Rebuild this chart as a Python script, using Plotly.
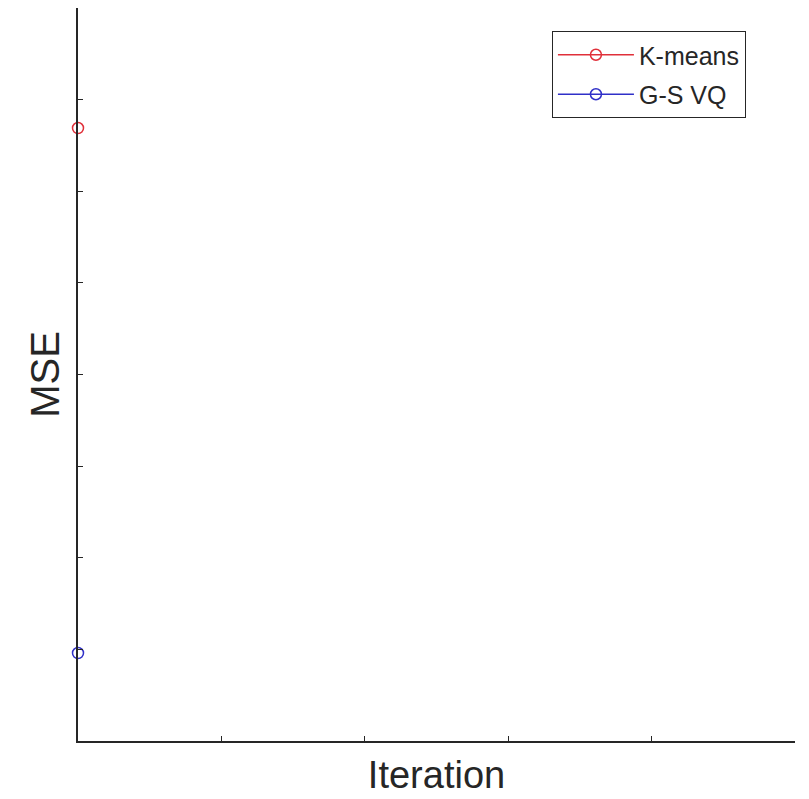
import plotly.graph_objects as go

series_names = ["K-means", "G-S VQ"]
iterations = [[0], [0]]
mse_values = [[6.69], [0.96]]
colors = ["#e0303a", "#3030c8"]

x_range = [0, 5]
y_range = [0, 8]
x_ticks = [0, 1, 2, 3, 4, 5]
y_ticks = [0, 1, 2, 3, 4, 5, 6, 7, 8]

fig = go.Figure()
for i, (name, xs, ys, c) in enumerate(zip(series_names, iterations, mse_values, colors)):
    fig.add_trace(go.Scatter(
        x=xs, y=ys, name=name, mode="lines+markers", legendgroup=f"g{i}",
        line=dict(color=c, width=1.5),
        marker=dict(symbol="circle-open", size=11, color=c, line=dict(width=1.5, color=c)),
        cliponaxis=False,
    ))

axis_common = dict(
    showgrid=False, zeroline=False, showline=True, linecolor="#262626", linewidth=1.5,
    ticklen=5, tickcolor="#262626", tickwidth=1, showticklabels=False,
    mirror=False, ticks="inside",
)
fig.update_xaxes(range=x_range, tickvals=x_ticks, **axis_common,
                 title=dict(text="Iteration", font=dict(size=38, color="#262626"), standoff=20))
fig.update_yaxes(range=y_range, tickvals=y_ticks, **axis_common,
                 title=dict(text="MSE", font=dict(size=40, color="#262626"), standoff=4))

fig.update_layout(
    width=809, height=799,
    margin=dict(l=78, r=14, t=8, b=58, autoexpand=False),
    paper_bgcolor="white", plot_bgcolor="white",
    font=dict(family="Liberation Sans, Arial, sans-serif", color="#262626"),
    showlegend=True,
    legend=dict(x=0.661, y=0.9686, xanchor="left", yanchor="top",
                bordercolor="#262626", borderwidth=1, bgcolor="white",
                font=dict(size=25, color="#262626"), itemwidth=76,
                tracegroupgap=4),
)

fig.write_html("out.html", config={"displayModeBar": False},
               post_script="document.body.style.margin='0';")
